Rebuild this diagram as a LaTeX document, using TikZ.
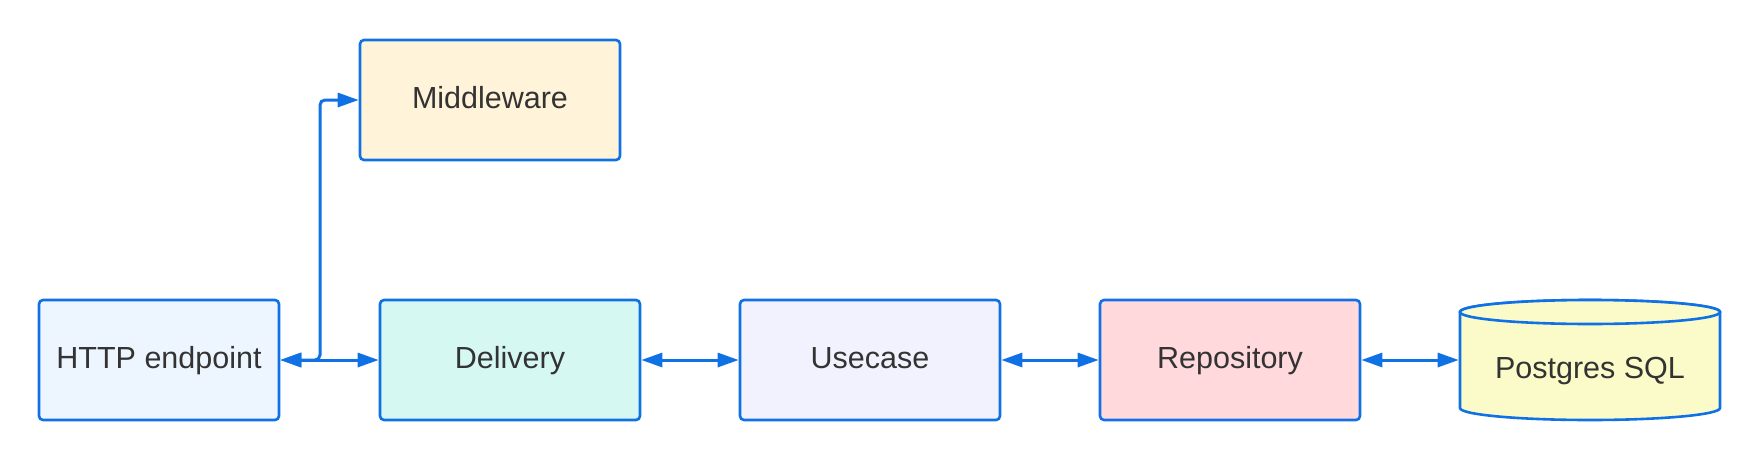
\documentclass[tikz,border=0pt]{standalone}
\usepackage{fontspec}
\setmainfont{Liberation Sans}
\usetikzlibrary{arrows.meta}
\definecolor{lucidblue}{HTML}{1071E5}
\definecolor{textgray}{HTML}{333333}
\definecolor{httpfill}{HTML}{EDF5FF}
\definecolor{middlefill}{HTML}{FFF3D9}
\definecolor{deliveryfill}{HTML}{D5F8F2}
\definecolor{usecasefill}{HTML}{F1F2FD}
\definecolor{repofill}{HTML}{FFD9DB}
\definecolor{dbfill}{HTML}{FAFBC9}

\begin{document}
\begin{tikzpicture}[x = 1pt, y = -1pt]
\tikzstyle{BoxStyle}=[shape = rectangle,
                       rounded corners = 4pt,
                       minimum width = 260pt,
                       minimum height = 120pt,
                       inner sep = 0pt,
                       text height = 22pt,
                       text depth = 6pt,
                       text = textgray,
                       font = \fontsize{30.5}{36}\selectfont,
                       line width = 2.6pt,
                       draw = lucidblue]
\tikzstyle{EdgeStyle}=[line width = 3pt,
                        draw = lucidblue,
                        >={Triangle[length = 21pt, width = 14pt]},
                        <->]
\useasboundingbox (0,0) rectangle (1760,460);
\node[BoxStyle, fill = httpfill, minimum width = 240pt] (http) at (159,360) {HTTP endpoint};
\node[BoxStyle, fill = middlefill] (mw) at (490,100) {Middleware};
\node[BoxStyle, fill = deliveryfill] (dl) at (510,360) {Delivery};
\node[BoxStyle, fill = usecasefill] (uc) at (870,360) {Usecase};
\node[BoxStyle, fill = repofill] (repo) at (1230,360) {Repository};
\draw[line width = 2.6pt, draw = lucidblue, fill = dbfill] (1460,312) -- (1460,408)
  arc[start angle = 180, end angle = 0, x radius = 130, y radius = 12] -- (1720,312)
  arc[start angle = 360, end angle = 180, x radius = 130, y radius = 12] -- cycle;
\draw[line width = 2.6pt, draw = lucidblue, fill = dbfill] (1590,312) ellipse [x radius = 130, y radius = 12];
\node[BoxStyle, draw = none, rounded corners = 0pt, text height = 36pt, text depth = 0pt] (pg) at (1590,360) {Postgres SQL};
\coordinate (split) at (320,360);
\draw[EdgeStyle] (http.east) -- (dl.west);
\draw[EdgeStyle, rounded corners = 5pt] (http.east) -- (split) |- (mw.west);
\draw[EdgeStyle] (dl.east) -- (uc.west);
\draw[EdgeStyle] (uc.east) -- (repo.west);
\draw[EdgeStyle] (repo.east) -- (pg.west);
\end{tikzpicture}
\end{document}
